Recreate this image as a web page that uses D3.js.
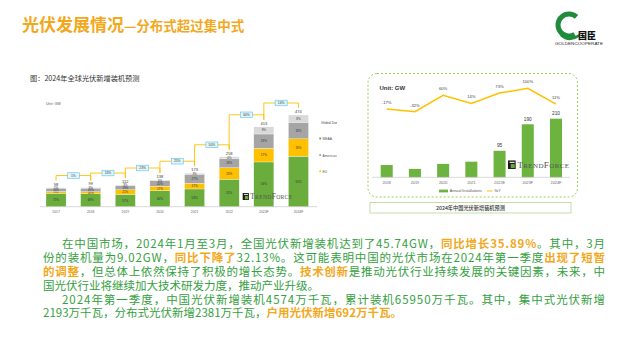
<!DOCTYPE html>
<html><head><meta charset="utf-8">
<script src="https://cdn.jsdelivr.net/npm/d3@7"></script>
<style>html,body{margin:0;padding:0;background:#fff;} svg{display:block;font-family:"Noto Sans CJK SC","Noto Sans",sans-serif;}</style>
</head><body><svg id="c" width="617" height="346"></svg>
<script>
// ---------- data ----------
const globalYears = ["2017","2018","2019","2020","2021","2022","2023F","2024F"];
const globalTotals = [98,99,112,138,173,258,413,474];
const shareChina = [71,68,57,60,53,55,56,55];
const shareEU = [9,10,21,17,17,23,17,19];
const shareAmericas = [18,19,19,20,27,18,18,18];
const shareMEAA = [2,3,3,3,3,4,9,8];
const growthLabels = ["1%","13%","23%","25%","50%","60%","14%"];
const legendLabels = ["Global Demand","MEAA","Americas","EU"];

const chinaYears = ["2018","2019","2020","2021","2022E","2023F","2024F"];
const chinaInstall = [44,30,48,56,95,190,210];
const chinaYoY = [-17,-32,60,14,73,100,11];
const chinaValueShown = [false,false,false,false,true,true,true];

const titleMain = "光伏发展情况";
const titleSub = "—分布式超过集中式";
const leftCaption = "图：2024年全球光伏新增装机预测";
const rightCaption = "2024年中国光伏新增装机预测";
// body text: [text, highlighted]
const bodyLines = [
  [["在中国市场，2024年1月至3月，全国光伏新增装机达到了45.74GW，",0],["同比增长35.89%",1],["。其中，3月",0]],
  [["份的装机量为9.02GW，",0],["同比下降了",1],["32.13%。这可能表明中国的光伏市场在2024年第一季度",0],["出现了短暂",1]],
  [["的调整",1],["，但总体上依然保持了积极的增长态势。",0],["技术创新",1],["是推动光伏行业持续发展的关键因素，未来，中",0]],
  [["国光伏行业将继续加大技术研发力度，推动产业升级。",0]],
  [["2024年第一季度，中国光伏新增装机4574万千瓦，累计装机65950万千瓦。其中，集中式光伏新增",0]],
  [["2193万千瓦，分布式光伏新增2381万千瓦，",0],["户用光伏新增692万千瓦。",1]]
];

// ---------- drawing ----------
const svg = d3.select("#c");
const ORANGE = "#f3a81c", GREEN_TXT = "#35a041";

// title
const t = svg.append("text").attr("x",22).attr("y",31).attr("fill",ORANGE).attr("font-weight",700);
t.append("tspan").attr("font-size",17).text(titleMain);
t.append("tspan").attr("font-size",13.5).text(titleSub);

// logo
const lg = svg.append("g");
lg.append("path").attr("transform","translate(569,25)")
  .attr("d", d3.arc().innerRadius(8.5).outerRadius(13.5).startAngle(2.6).endAngle(2*Math.PI+0.75)())
  .attr("fill","#1e8c3c");
lg.append("path").attr("d","M562,33 Q570,40 581,33 L579,37 Q569,44 560,36 Z").attr("fill","#1e8c3c");
lg.append("text").attr("x",587).attr("y",39).attr("text-anchor","middle").attr("font-size",9).attr("font-weight",900).attr("fill","#111").text("国臣");
lg.append("text").attr("x",579).attr("y",45.3).attr("text-anchor","middle").attr("font-size",3.6).attr("fill","#222")
  .attr("textLength",48).attr("lengthAdjust","spacingAndGlyphs").attr("font-family","Liberation Sans").text("GOLDENCOOPERATE");

// ---------- left chart ----------
svg.append("text").attr("x",30).attr("y",80.5).attr("font-size",7.2).attr("fill","#333").text(leftCaption);
svg.append("text").attr("x",46).attr("y",104.5).attr("font-size",3.6).attr("fill","#555").attr("font-family","Liberation Sans").text("Unit: GW");

const xL = d3.scaleBand().domain(globalYears).range([46,308.5]).paddingInner(0.42).paddingOuter(0);
const yL = d3.scaleLinear().domain([0,474]).range([206.7,115]);
const stackRows = globalYears.map((y,i)=>({year:y,total:globalTotals[i],
  China:globalTotals[i]*shareChina[i]/100, EU:globalTotals[i]*shareEU[i]/100,
  Americas:globalTotals[i]*shareAmericas[i]/100, MEAA:globalTotals[i]*shareMEAA[i]/100,
  pct:{China:shareChina[i],EU:shareEU[i],Americas:shareAmericas[i],MEAA:shareMEAA[i]}}));
const keys = ["China","EU","Americas","MEAA"];
const colL = {China:"#6aad3d",EU:"#ffc000",Americas:"#a5a5a5",MEAA:"#d9d9d9"};
const series = d3.stack().keys(keys)(stackRows);
const gL = svg.append("g");
series.forEach(s=>{
  gL.selectAll(null).data(s).enter().append("rect")
    .attr("x",d=>xL(d.data.year)).attr("width",xL.bandwidth())
    .attr("y",d=>yL(d[1])).attr("height",d=>yL(d[0])-yL(d[1]))
    .attr("fill",colL[s.key]).attr("stroke","#fff").attr("stroke-width",0.3);
  gL.selectAll(null).data(s).enter().append("text")
    .attr("x",d=>xL(d.data.year)+xL.bandwidth()/2).attr("y",d=>(yL(d[0])+yL(d[1]))/2+1.1)
    .attr("text-anchor","middle").attr("font-size",3.0).attr("fill","#333").attr("font-family","Liberation Sans")
    .text(d=>d.data.pct[s.key]+"%");
});
gL.selectAll(null).data(stackRows).enter().append("text")
  .attr("x",d=>xL(d.year)+xL.bandwidth()/2).attr("y",d=>yL(d.total)-2.2)
  .attr("text-anchor","middle").attr("font-size",4).attr("fill","#333").attr("font-family","Liberation Sans")
  .text(d=>d.total);
// axis
const axL = gL.append("g").attr("transform","translate(0,206.7)")
  .call(d3.axisBottom(xL).tickSize(0).tickPadding(3.5));
axL.select(".domain").attr("d","M40,0H317").attr("stroke","#bfbfbf").attr("stroke-width",0.6);
axL.selectAll("text").attr("font-size",3.4).attr("fill","#666").attr("font-family","Liberation Sans");
// growth step line
const cx = y=>xL(y)+xL.bandwidth()/2;
growthLabels.forEach((g,i)=>{
  const a=globalYears[i], b=globalYears[i+1];
  const lvl = yL(globalTotals[i+1])-12;
  gL.append("path").attr("d",`M${cx(a)},${yL(globalTotals[i])-7}V${lvl}H${cx(b)}V${yL(globalTotals[i+1])-7}`)
    .attr("fill","none").attr("stroke","#ffc000").attr("stroke-width",0.9);
  const mx=(cx(a)+cx(b))/2;
  gL.append("rect").attr("x",mx-6).attr("y",lvl-2.8).attr("width",12).attr("height",5.6)
    .attr("fill","#e3f5fb").attr("stroke","#56c4ea").attr("stroke-width",0.6);
  gL.append("text").attr("x",mx).attr("y",lvl+1.2).attr("text-anchor","middle").attr("font-size",3.3)
    .attr("fill","#333").attr("font-family","Liberation Sans").text(g);
});
// legend (clipped at image edge)
svg.append("clipPath").attr("id","clipL").append("rect").attr("x",0).attr("y",0).attr("width",337).attr("height",346);
const legL = svg.append("g").attr("clip-path","url(#clipL)").attr("font-family","Liberation Sans");
legL.append("text").attr("x",321).attr("y",123.5).attr("font-size",3.4).attr("fill","#444").text(legendLabels[0]);
const legCols = ["#7f7f7f","#a5a5a5","#ffc000"];
[1,2,3].forEach((k,j)=>{
  const yy=[140,156.5,172.8][j];
  legL.append("rect").attr("x",319.3).attr("y",yy-2.4).attr("width",1.8).attr("height",1.8).attr("fill",legCols[j]);
  legL.append("text").attr("x",322.5).attr("y",yy).attr("font-size",3.4).attr("fill","#555").text(legendLabels[k]);
});
// TrendForce logo helper
function trendforce(g,x,y,s){
  g.append("rect").attr("x",x).attr("y",y-s*0.95).attr("width",s*0.85).attr("height",s*0.95).attr("fill","#1a1a1a");
  g.append("rect").attr("x",x+s*0.3).attr("y",y-s*0.55).attr("width",s*0.45).attr("height",s*0.45).attr("fill","#6aad3d");
  g.append("rect").attr("x",x+s*0.18).attr("y",y-s*0.8).attr("width",s*0.55).attr("height",s*0.12).attr("fill","#fff");
  const tx = g.append("text").attr("x",x+s*1.05).attr("y",y-s*0.1).attr("font-family","Liberation Serif").attr("fill","#555").attr("letter-spacing",s*0.04);
  tx.append("tspan").attr("font-size",s*1.0).text("T");
  tx.append("tspan").attr("font-size",s*0.78).text("REND");
  tx.append("tspan").attr("font-size",s*1.0).text("F");
  tx.append("tspan").attr("font-size",s*0.78).text("ORCE");
}
trendforce(svg.append("g"),242.7,200,7.3);

// ---------- right chart ----------
svg.append("rect").attr("x",368).attr("y",73.5).attr("width",209.5).attr("height",123.5).attr("rx",9)
  .attr("fill","none").attr("stroke","#8dc63f").attr("stroke-width",0.9).attr("stroke-dasharray","2,2");
svg.append("rect").attr("x",370).attr("y",202.5).attr("width",201).attr("height",10.5)
  .attr("fill","#fff").attr("stroke","#b3d88f").attr("stroke-width",0.8);
svg.append("text").attr("x",470.5).attr("y",209.7).attr("text-anchor","middle").attr("font-size",5.2).attr("font-weight",500)
  .attr("fill","#333").text(rightCaption);
svg.append("text").attr("x",379.5).attr("y",90).attr("font-size",6).attr("font-weight",700).attr("fill","#333")
  .attr("font-family","Liberation Sans").text("Unit: GW");

const xR = d3.scaleBand().domain(chinaYears).range([380.7,562]).paddingInner(0.574).paddingOuter(0);
const yR = d3.scaleLinear().domain([0,210]).range([177.3,118.7]);
const yY = d3.scaleLinear().domain([-32,100]).range([111.7,88.3]);
const gR = svg.append("g");
const rowsR = chinaYears.map((y,i)=>({year:y,v:chinaInstall[i],yoy:chinaYoY[i],show:chinaValueShown[i]}));
gR.selectAll(null).data(rowsR).enter().append("rect")
  .attr("x",d=>xR(d.year)).attr("width",xR.bandwidth()).attr("y",d=>yR(d.v)).attr("height",d=>yR(0)-yR(d.v))
  .attr("fill","#6db33f");
gR.selectAll(null).data(rowsR.filter(d=>d.show)).enter().append("text")
  .attr("x",d=>xR(d.year)+xR.bandwidth()/2).attr("y",d=>yR(d.v)-3.5).attr("text-anchor","middle")
  .attr("font-size",4.8).attr("fill","#333").attr("font-family","Liberation Sans").text(d=>d.v);
const axR = gR.append("g").attr("transform","translate(0,177.3)").call(d3.axisBottom(xR).tickSize(0).tickPadding(4));
axR.select(".domain").attr("d","M372,0H570").attr("stroke","#bfbfbf").attr("stroke-width",0.6);
axR.selectAll("text").attr("font-size",3.8).attr("fill","#666").attr("font-family","Liberation Sans");
const cxR = y=>xR(y)+xR.bandwidth()/2;
gR.append("path").datum(rowsR).attr("d",d3.line().x(d=>cxR(d.year)).y(d=>yY(d.yoy)))
  .attr("fill","none").attr("stroke","#ffc000").attr("stroke-width",1.5);
gR.selectAll(null).data(rowsR).enter().append("text")
  .attr("x",d=>cxR(d.year)).attr("y",d=>yY(d.yoy)-5.2).attr("text-anchor","middle")
  .attr("font-size",4.2).attr("fill","#444").attr("font-family","Liberation Sans").text(d=>d.yoy+"%");
// legend
gR.append("rect").attr("x",439).attr("y",189.6).attr("width",9).attr("height",2.8).attr("fill","#6db33f");
gR.append("text").attr("x",449.8).attr("y",192.4).attr("font-size",3.7).attr("fill","#555").attr("font-family","Liberation Sans").text("Annual Installations");
gR.append("line").attr("x1",487).attr("x2",492.5).attr("y1",191).attr("y2",191).attr("stroke","#ffc000").attr("stroke-width",1);
gR.append("text").attr("x",494).attr("y",192.4).attr("font-size",3.7).attr("fill","#555").attr("font-family","Liberation Sans").text("YoY");
trendforce(svg.append("g"),508,169,9);

// ---------- body text (justified lines) ----------
const lineY = [248,262,275.5,289.5,303.5,317];
const lineX = [62,43,43,43,62,43];
const justified = [true,true,true,false,true,false];
const rightEdge = 605;
bodyLines.forEach((segs,i)=>{
  const tx = svg.append("text").attr("x",lineX[i]).attr("y",lineY[i]).attr("font-size",11.5);
  segs.forEach(([s,h])=>tx.append("tspan").attr("fill",h?ORANGE:GREEN_TXT).attr("font-weight",h?700:400).text(s));
  if(justified[i]) tx.attr("textLength",rightEdge-lineX[i]).attr("lengthAdjust","spacing");
});
</script></body></html>
